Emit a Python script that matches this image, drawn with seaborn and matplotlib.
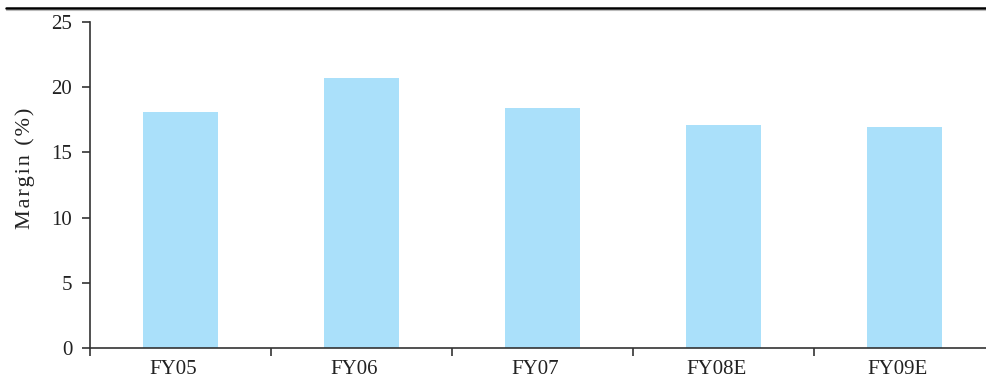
import matplotlib
matplotlib.use("Agg")
import matplotlib.pyplot as plt
import matplotlib.lines as mlines
import matplotlib.transforms as mtransforms
import seaborn as sns
import pandas as pd
import numpy as np

# Fiscal years and operating margin (%)
years = ["FY05", "FY06", "FY07", "FY08E", "FY09E"]
margin = [18.1, 20.7, 18.4, 17.1, 16.95]
y_ticks = [0, 5, 10, 15, 20, 25]

df = pd.DataFrame({"year": years, "margin": margin})

sns.set_theme(style="white")
plt.rcParams["font.family"] = ["Liberation Serif", "DejaVu Serif"]

fig = plt.figure(figsize=(9.87, 3.78), dpi=100)
ax = fig.add_axes([0.0912, 0.0794, 0.9088, 0.8624])

sns.barplot(data=df, x="year", y="margin", color="#aae0fa", saturation=1,
            width=0.41, linewidth=0, edgecolor="none", ax=ax)

n = len(years)
ax.set_xlim(-0.5, n - 0.5 - 8 / 181)
ax.set_ylim(0, 25)
ax.set_yticks(y_ticks)
ax.set_yticklabels([str(v) for v in y_ticks], fontsize=15, color="#222222")

# Category boundaries carry the tick marks, labels sit near bar centres
ax.set_xticks(np.arange(n) - 0.5)
ax.set_xticklabels([""] * n)
ax.set_xticks(np.arange(n), minor=True)
ax.set_xticklabels(years, minor=True, fontsize=15, color="#222222")
ax.tick_params(axis="x", which="major", direction="out", length=5.5, width=1.2,
               color="#333333", bottom=True)
ax.tick_params(axis="x", which="minor", length=0, pad=9, bottom=True)
ax.tick_params(axis="y", direction="out", length=5.8, width=1.2, color="#333333",
               left=True, pad=7)
shift = mtransforms.ScaledTranslation(-7 / 100, 0, fig.dpi_scale_trans)
for lbl in ax.get_xticklabels(minor=True):
    lbl.set_transform(lbl.get_transform() + shift)

ax.set_xlabel("")
hair = "\u200a"
ax.set_ylabel(hair.join("Margin (%)"), fontsize=16, color="#222222")
ax.yaxis.set_label_coords(-0.061, 0.55)

for side in ["top", "right"]:
    ax.spines[side].set_visible(False)
for side in ["left", "bottom"]:
    ax.spines[side].set_color("#333333")
    ax.spines[side].set_linewidth(1.2)

# Rule across the top of the figure
fig.add_artist(mlines.Line2D([0.006, 1.0], [0.979, 0.979], color="black",
                             lw=1.8, transform=fig.transFigure))
fig.add_artist(mlines.Line2D([0.006, 1.0], [0.974, 0.974], color="#bbbbbb",
                             lw=0.8, transform=fig.transFigure))

fig.savefig("out.png", dpi=100)
